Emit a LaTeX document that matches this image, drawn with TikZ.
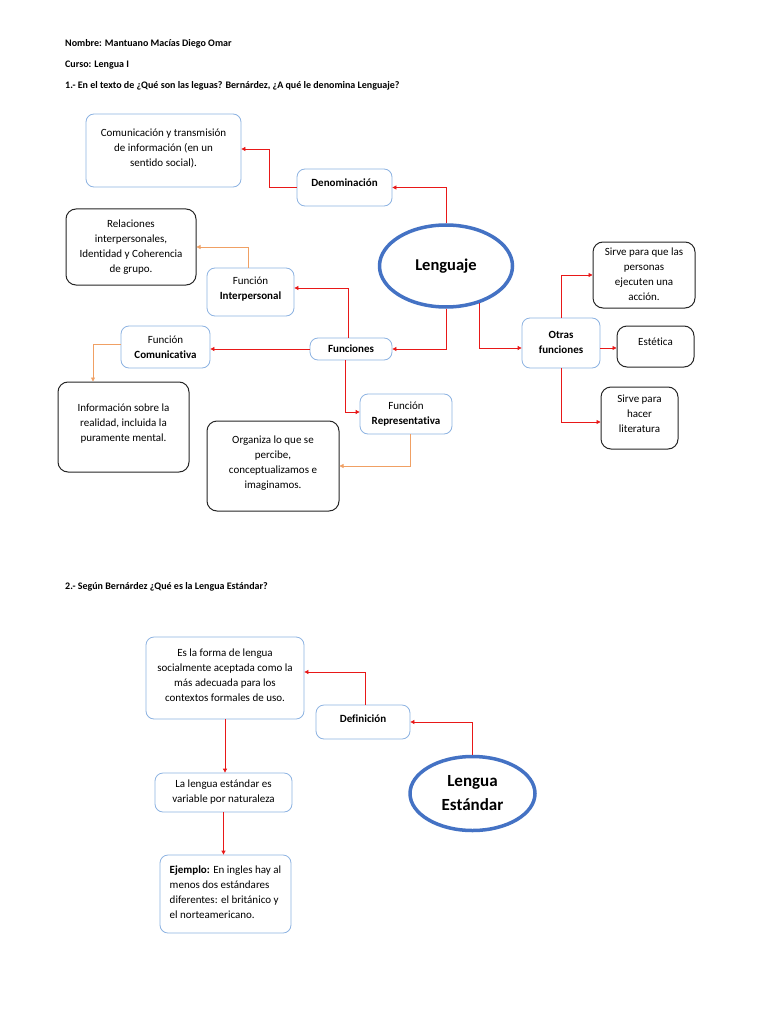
\documentclass[tikz,border=0pt]{standalone}
\usepackage{fontspec}
\setmainfont{Carlito}[Ligatures=NoCommon]
\usepackage{tikz}
\usetikzlibrary{arrows.meta,shapes.geometric}

\definecolor{boxblue}{RGB}{141,179,226}
\definecolor{ellblue}{RGB}{68,114,196}
\definecolor{linkred}{RGB}{232,24,24}
\definecolor{linkorange}{RGB}{240,160,100}

\tikzset{
	heading/.style={anchor=west, inner sep=0pt, font=\bfseries\fontsize{10}{12}\selectfont},
	bluebox/.style={draw=boxblue, line width=0.8pt, rounded corners=8pt, align=center,
		inner sep=2pt, font=\fontsize{11}{15}\selectfont},
	blackbox/.style={draw=black!85, line width=1pt, rounded corners=10pt, align=center,
		inner sep=2pt, font=\fontsize{11}{15}\selectfont},
	bubble/.style={ellipse, draw=ellblue, line width=3.5pt, inner sep=0pt,
		font=\bfseries\fontsize{16.5}{24}\selectfont, align=center},
	link/.style={draw=linkred, line width=0.8pt, -{Triangle[length=4pt,width=4pt]}},
	olink/.style={draw=linkorange, line width=0.8pt, -{Triangle[length=4pt,width=4pt]}}
}

\begin{document}
\begin{tikzpicture}[x=1pt,y=-1pt]
	\useasboundingbox[fill=white] (0,0) rectangle (768,1024);

	% headings
	\node[heading] (nombre) at (65,44) {Nombre: Mantuano Mac\'ias Diego Omar};
	\node[heading] (curso) at (65,65) {Curso: Lengua I};
	\node[heading] (preg1) at (65,86) {1.- En el texto de ¿Qué son las leguas? Bernárdez, ¿A qué le denomina Lenguaje?};
	\node[heading] (preg2) at (65,587) {2.- Según Bernárdez ¿Qué es la Lengua Estándar?};

	% part 1
	\node[bubble, minimum width=133pt, minimum height=82pt] (leng) at (446,266) {Lenguaje};

	\node[bluebox, minimum width=155pt, minimum height=73pt] (com) at (163.5,150.5)
		{Comunicación y transmisión\\de información (en un\\sentido social).\\[-9pt]};
	\node[bluebox, minimum width=95pt, minimum height=37pt] (den) at (344.5,187.5)
		{\textbf{Denominación}\\[-6pt]};
	\node[blackbox, minimum width=130pt, minimum height=76pt] (rel) at (131,247)
		{Relaciones\\interpersonales,\\Identidad y Coherencia\\de grupo.};
	\node[bluebox, minimum width=87pt, minimum height=48pt] (inter) at (250.5,292)
		{Función\\\textbf{Interpersonal}\\[-8pt]};
	\node[bluebox, minimum width=89pt, minimum height=42pt] (comu) at (165.5,347)
		{Función\\\textbf{Comunicativa}};
	\node[bluebox, minimum width=82pt, minimum height=22pt] (fun) at (351,349)
		{\textbf{Funciones}};
	\node[bluebox, minimum width=92pt, minimum height=40pt] (rep) at (406,414)
		{Función\\\textbf{Representativa}};
	\node[blackbox, minimum width=131pt, minimum height=90pt] (info) at (123.5,427)
		{Información sobre la\\realidad, incluida la\\puramente mental.\\[-7pt]};
	\node[blackbox, minimum width=132pt, minimum height=90pt] (org) at (273,466)
		{Organiza lo que se\\percibe,\\conceptualizamos e\\imaginamos.\\[-8pt]};
	\node[bluebox, minimum width=78pt, minimum height=50pt] (otras) at (561,343)
		{\mbox{}\\[-9pt]\textbf{Otras}\\\textbf{funciones}};
	\node[blackbox, minimum width=102pt, minimum height=66pt] (sirve) at (644,275)
		{\mbox{}\\[-9pt]Sirve para que las\\personas\\ejecuten una\\acción.};
	\node[blackbox, minimum width=77pt, minimum height=41pt] (estet) at (655.5,346.5)
		{Estética\\[-6pt]};
	\node[blackbox, minimum width=77pt, minimum height=62pt] (lit) at (639.5,418)
		{Sirve para\\hacer\\literatura\\[-7pt]};

	\draw[link] (leng.north) |- (den.east);
	\draw[link] (den.west) -- ++(-27,0) |- ([yshift=1.5pt]com.east);
	\draw[link] (leng.south) |- (fun.east);
	\draw[link] ([xshift=-3pt]fun.north) |- ([yshift=4pt]inter.east);
	\draw[link] (fun.west) -- (fun.west -| comu.east);
	\draw[link] ([xshift=-6pt]fun.south) |- ([yshift=2pt]rep.west);
	\draw[link] (leng.-48) |- ([yshift=-5pt]otras.west);
	\draw[link] (otras.north) |- (sirve.west);
	\draw[link] ([yshift=-5pt]otras.east) -- ([yshift=-5pt]otras.east -| estet.west);
	\draw[link] (otras.south) |- ([yshift=-4pt]lit.west);

	\draw[olink] ([xshift=-2.5pt]inter.north) |- (rel.east);
	\draw[olink] ([yshift=3pt]comu.west) -| ([xshift=-30.5pt]info.north);
	\draw[olink] ([xshift=4pt]rep.south) |- (org.east);

	% part 2
	\node[bubble, minimum width=125pt, minimum height=74pt,
		font=\bfseries\fontsize{17}{24}\selectfont] (lest) at (472.5,793.5) {Lengua\\Estándar};
	\node[bluebox, minimum width=158pt, minimum height=82pt] (forma) at (225,678)
		{Es la forma de lengua\\socialmente aceptada como la\\más adecuada para los\\contextos formales de uso.\\[-9pt]};
	\node[bluebox, minimum width=94pt, minimum height=34pt] (def) at (363,722)
		{\textbf{Definición}\\[-9pt]};
	\node[bluebox, minimum width=137pt, minimum height=39pt] (lvar) at (223.5,792.5)
		{La lengua estándar es\\variable por naturaleza};
	\node[bluebox, minimum width=131pt, minimum height=78pt, align=left] (ej) at (225.5,894)
		{\textbf{Ejemplo:} En ingles hay al\\menos dos estándares\\diferentes: el británico y\\el norteamericano.\\[-11pt]};

	\draw[link] (lest.north) |- (def.east);
	\draw[link] ([xshift=2pt]def.north) |- ([yshift=6pt]forma.east);
	\draw[link] (forma.south) -- (forma.south |- lvar.north);
	\draw[link] (lvar.south) -- (lvar.south |- ej.north);
\end{tikzpicture}
\end{document}
